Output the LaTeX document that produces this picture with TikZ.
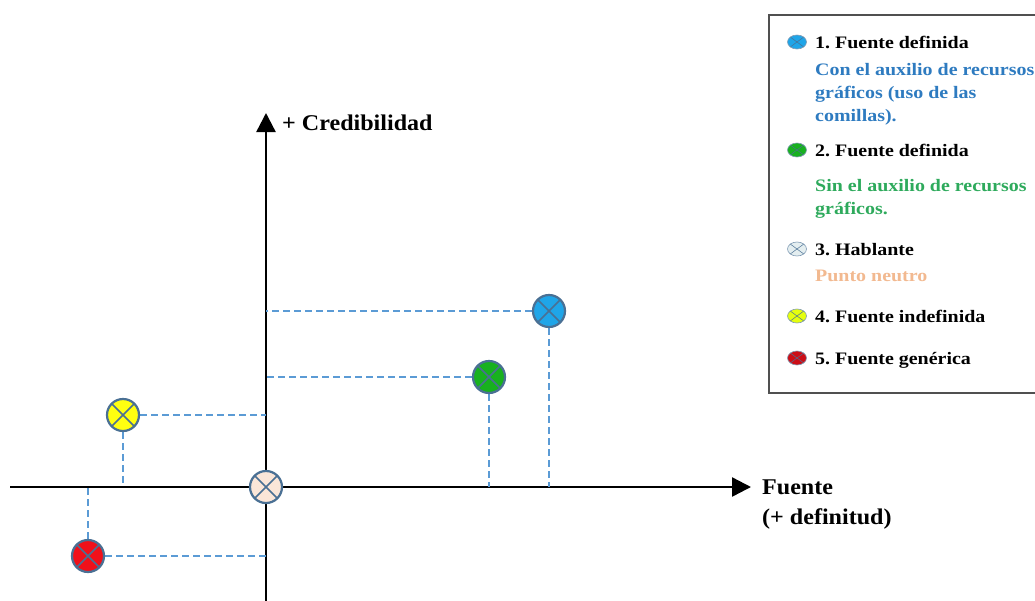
\documentclass[tikz,border=0pt]{standalone}
\usepackage{fontspec}
\setmainfont{Liberation Serif}
\newfontfamily\legfont{Liberation Serif}[FakeStretch=1.14]
\newfontfamily\axfont{Liberation Serif}[FakeStretch=1.07]
\usetikzlibrary{arrows.meta,backgrounds,shapes.geometric}
\definecolor{guideblue}{HTML}{5B9BD5}
\definecolor{ptborder}{HTML}{4A7094}
\definecolor{ptblue}{HTML}{1FA5E8}
\definecolor{ptgreen}{HTML}{18B11F}
\definecolor{ptyellow}{HTML}{FFFF10}
\definecolor{ptred}{HTML}{F0101A}
\definecolor{ptneutral}{HTML}{FBE6D8}
\definecolor{txtblue}{HTML}{2E7BC0}
\definecolor{txtgreen}{HTML}{2EAA5C}
\definecolor{txtpeach}{HTML}{F2B990}
\definecolor{boxgray}{HTML}{505050}
\definecolor{bulneutral}{HTML}{E4EEF0}
\frenchspacing
\begin{document}
\begin{tikzpicture}[x=1pt,y=-1pt,
  axisline/.style={line width=2.4pt, black},
  guide/.style={draw=guideblue, line width=1.8pt, dash pattern=on 7pt off 4pt},
  crossed/.style={path picture={
      \draw[ptborder, line width=#1]
        (path picture bounding box.north west) -- (path picture bounding box.south east)
        (path picture bounding box.north east) -- (path picture bounding box.south west);}},
  ptmark/.style={circle, draw=ptborder, line width=2.2pt, minimum size=32pt,
      inner sep=0pt, crossed=1.6pt},
  bullet/.style={ellipse, draw=ptborder!70, line width=0.6pt, minimum width=19pt,
      minimum height=14pt, inner sep=0pt, crossed=0.5pt},
  axislabel/.style={font=\axfont\bfseries\fontsize{22.5}{27}\selectfont, inner sep=0pt, anchor=base west},
  legtext/.style={font=\legfont\bfseries\fontsize{17.5}{23}\selectfont, inner sep=0pt, anchor=base west},
]
\clip (0,0) rectangle (1035,600);

% origin and axis ends
\coordinate (O) at (266,487);
\coordinate (xs) at (10,487);
\coordinate (xe) at (751,487);
\coordinate (ys) at (266,601);
\coordinate (ye) at (266,113);

% points
\node[ptmark, fill=ptblue] (p1) at (549,311) {};
\node[ptmark, fill=ptgreen] (p2) at (489,377) {};
\node[ptmark, fill=ptneutral] (p3) at (266,487) {};
\node[ptmark, fill=ptyellow] (p4) at (123,415) {};
\node[ptmark, fill=ptred] (p5) at (88,556) {};

\begin{scope}[on background layer]
  \draw[axisline, -{Triangle[length=19pt,width=19pt]}] (xs) -- (xe);
  \draw[axisline, -{Triangle[length=19pt,width=19pt]}] (ys) -- (ye);
  \draw[guide] (p1) -- (p1 -| O);
  \draw[guide] (p1) -- (p1 |- O);
  \draw[guide] (p2) -- (p2 -| O);
  \draw[guide] (p2) -- (p2 |- O);
  \draw[guide] (p4) -- (p4 -| O);
  \draw[guide] (p4) -- (p4 |- O);
  \draw[guide] (p5) -- (p5 -| O);
  \draw[guide] (p5) -- (p5 |- O);
\end{scope}

% axis labels
\node[axislabel] (ylab) at (282,130) {+ Credibilidad};
\node[axislabel] (xlab1) at (762,494) {Fuente};
\node[axislabel] (xlab2) at (762,524) {(+ definitud)};

% legend box
\draw[boxgray, line width=1.5pt] (769,15) rectangle (1045,393);

% legend bullets
\node[bullet, fill=ptblue] (b1) at (797,42) {};
\node[bullet, fill=ptgreen] (b2) at (797,150) {};
\node[bullet, fill=bulneutral] (b3) at (797,249) {};
\node[bullet, fill=ptyellow!90!green] (b4) at (797,316) {};
\node[bullet, fill=ptred!85!black] (b5) at (797,358) {};

% legend text
\node[legtext] (l1a) at (815,48) {1. Fuente definida};
\node[legtext, text=txtblue] (l1b) at (815,75) {Con el auxilio de recursos};
\node[legtext, text=txtblue] (l1c) at (815,98) {gráficos (uso de las};
\node[legtext, text=txtblue] (l1d) at (815,121) {comillas).};
\node[legtext] (l2a) at (815,156) {2. Fuente definida};
\node[legtext, text=txtgreen] (l2b) at (815,191) {Sin el auxilio de recursos};
\node[legtext, text=txtgreen] (l2c) at (815,214) {gráficos.};
\node[legtext] (l3a) at (815,255) {3. Hablante};
\node[legtext, text=txtpeach] (l3b) at (815,281) {Punto neutro};
\node[legtext] (l4a) at (815,322) {4. Fuente indefinida};
\node[legtext] (l5a) at (815,364) {5. Fuente genérica};
\end{tikzpicture}
\end{document}
